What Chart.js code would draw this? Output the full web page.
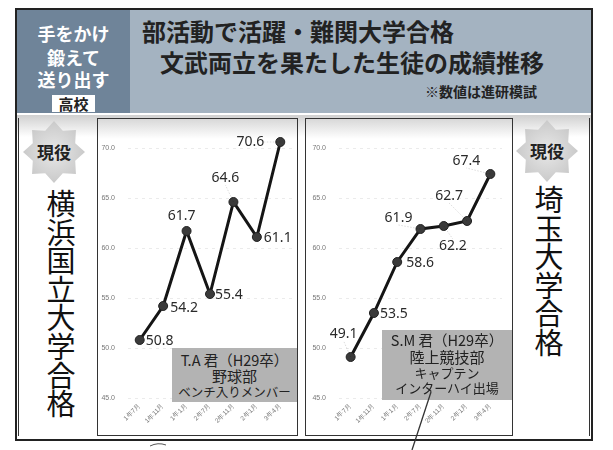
<!DOCTYPE html>
<html><head><meta charset="utf-8">
<script src="https://cdn.jsdelivr.net/npm/chart.js@4"></script>
<style>
html,body{margin:0;padding:0;}
body{width:613px;height:450px;background:#fff;position:relative;overflow:hidden;font-family:"Noto Sans CJK JP","Noto Sans",sans-serif;}
.a{position:absolute;}
.t{position:absolute;white-space:nowrap;line-height:1;}
.panel{position:absolute;border:1px solid #333;box-sizing:border-box;background:linear-gradient(#d8d8d8 0px,#fff 20px);}
.box{position:absolute;background:#b3b3b3;color:#222;text-align:center;}
.star{position:absolute;background:radial-gradient(#e8e8e8,#bdbdbd);}
.vt{position:absolute;font-size:29px;line-height:28.6px;width:30px;word-break:break-all;color:#111;text-align:center;}
</style></head>
<body>
<div class="a" style="left:15px;top:8px;width:578px;height:433px;border:2px solid #222;box-sizing:border-box;"></div>
<div class="a" style="left:17px;top:10px;width:574px;height:103px;background:#a4b3c1;"></div>
<div class="a" style="left:17px;top:10px;width:113px;height:103px;background:#6f8499;"></div>
<div class="t" style="left:17px;width:113px;text-align:center;top:24px;font-size:18px;font-weight:bold;color:#fff;">手をかけ</div>
<div class="t" style="left:17px;width:113px;text-align:center;top:48px;font-size:18px;font-weight:bold;color:#fff;">鍛えて</div>
<div class="t" style="left:17px;width:113px;text-align:center;top:70px;font-size:18px;font-weight:bold;color:#fff;">送り出す</div>
<div class="t" style="left:52px;top:95px;width:43px;height:17px;background:#fff;color:#222;font-size:15px;font-weight:bold;text-align:center;line-height:17px;">高校</div>
<div class="t" style="left:142px;top:19px;font-size:24px;font-weight:bold;color:#222;">部活動で活躍・難関大学合格</div>
<div class="t" style="left:160px;top:50px;font-size:24px;font-weight:bold;color:#222;">文武両立を果たした生徒の成績推移</div>
<div class="t" style="left:425px;top:84px;font-size:14px;font-weight:bold;color:#222;">※数値は進研模試</div>
<div class="a" style="left:17px;top:115px;width:574px;height:324px;background:linear-gradient(#d0d0d0 0px,#fff 22px);"></div>
<div class="a" style="left:18px;top:118px;width:1px;height:318px;background:#333;"></div>
<div class="a" style="left:589px;top:118px;width:1px;height:318px;background:#333;"></div>
<div class="star" id="star1" style="left:23px;top:121px;width:62px;height:62px;"></div>
<div class="t" style="left:23px;width:62px;text-align:center;top:143px;font-size:17px;font-weight:bold;color:#222;">現役</div>
<div class="vt" style="left:46px;top:188px;">横浜国立大学合格</div>
<div class="star" id="star2" style="left:516px;top:120px;width:62px;height:62px;"></div>
<div class="t" style="left:516px;width:62px;text-align:center;top:142px;font-size:17px;font-weight:bold;color:#222;">現役</div>
<div class="vt" style="left:534px;top:184px;">埼玉大学合格</div>

<div class="panel" style="left:97px;top:118px;width:201px;height:318px;"></div>
<div class="panel" style="left:305px;top:118px;width:208px;height:318px;"></div>
<div class="a" style="left:97px;top:118px;width:201px;height:317px;"><canvas id="c1"></canvas></div>
<div class="a" style="left:305px;top:118px;width:208px;height:317px;"><canvas id="c2"></canvas></div>

<div class="box" style="left:172px;top:348px;width:125px;height:54px;">
 <div style="font-size:14.5px;line-height:16px;margin-top:4px;">T.A 君（H29卒）</div>
 <div style="font-size:15px;line-height:16px;">野球部</div>
 <div style="font-size:12.5px;line-height:15px;">ベンチ入りメンバー</div>
</div>
<div class="box" style="left:382px;top:330px;width:130px;height:70px;">
 <div style="font-size:14.5px;line-height:17px;margin-top:1px;">S.M 君（H29卒）</div>
 <div style="font-size:15px;line-height:17px;">陸上競技部</div>
 <div style="font-size:13px;line-height:15px;">キャプテン</div>
 <div style="font-size:13px;line-height:16px;">インターハイ出場</div>
</div>
<svg class="a" style="left:0;top:0;" width="613" height="450"><path d="M431 392 L412 450" stroke="#333" stroke-width="1.3" fill="none"/><path d="M150 446 q8 -4 16 -1" stroke="#555" stroke-width="1" fill="none"/></svg>

<script>
// ---- data ----
const categories = ['1年7月','1年11月','1年1月','2年7月','2年11月','2年1月','3年4月'];
const scoresTA = [50.8, 54.2, 61.7, 55.4, 64.6, 61.1, 70.6];
const scoresSM = [49.1, 53.5, 58.6, 61.9, 62.2, 62.7, 67.4];
const yMin = 45, yMax = 72, yStep = 5;

// label placement (style only): [dx, dy, align, leader]
const placeTA = [[6,1,'left',0],[7,2,'left',0],[-5,-15,'center',0],[5,1,'left',0],[-8,-24,'center',1],[7,1,'left',0],[-16,0,'right',1]];
const placeSM = [[-7,-23,'center',1],[6,1,'left',0],[9,1,'left',0],[-22,-11,'center',1],[9,20,'center',1],[-18,-25,'center',1],[-24,-13,'center',1]];

// stars
function starPoly(){
  const pts=[];
  for(let k=0;k<16;k++){
    const a=(-90+k*22.5)*Math.PI/180, r=(k%2===0)?50:37;
    pts.push((50+r*Math.cos(a)).toFixed(1)+'% '+(50+r*Math.sin(a)).toFixed(1)+'%');
  }
  return 'polygon('+pts.join(',')+')';
}
document.getElementById('star1').style.clipPath=starPoly();
document.getElementById('star2').style.clipPath=starPoly();

const valueLabels = {
  id:'valueLabels',
  afterDatasetsDraw(chart, args, opts){
    const ctx=chart.ctx, meta=chart.getDatasetMeta(0), data=chart.data.datasets[0].data;
    ctx.save();
    ctx.font='14px "Noto Sans", sans-serif';
    ctx.textBaseline='middle';
    meta.data.forEach((pt,i)=>{
      const p=opts.place[i];
      const tx=pt.x+p[0], ty=pt.y+p[1];
      if(p[3]){
        ctx.strokeStyle='rgba(0,0,0,0.18)'; ctx.lineWidth=0.8; ctx.setLineDash([1.5,1.5]);
        ctx.beginPath(); ctx.moveTo(pt.x,pt.y); ctx.lineTo(tx, ty+(p[1]<0?7:(p[1]>0?-7:0))); ctx.stroke();
        ctx.setLineDash([]);
      }
      ctx.fillStyle='#2a2a2a';
      ctx.textAlign=p[2];
      ctx.fillText(data[i].toFixed(1), tx, ty);
    });
    ctx.restore();
  }
};

function makeChart(id, values, place, yWidth, padRight){
  return new Chart(document.getElementById(id), {
    type:'line',
    data:{labels:categories, datasets:[{data:values, borderColor:'#151515', borderWidth:3, tension:0,
      pointRadius:4.5, pointBackgroundColor:'#3a3a3a', pointBorderColor:'#222', pointBorderWidth:1}]},
    options:{
      responsive:true, maintainAspectRatio:false, animation:false,
      layout:{padding:{top:10,right:padRight,left:0,bottom:0}},
      plugins:{legend:{display:false}, tooltip:{enabled:false}, valueLabels:{place}},
      scales:{
        x:{offset:true, grid:{display:false, drawTicks:false}, border:{display:false},
           ticks:{font:{size:6.5}, color:'#777', maxRotation:45, minRotation:45, padding:4, autoSkip:false},
           afterFit(s){s.height=37; s.paddingLeft=0; s.paddingRight=0;}},
        y:{min:yMin, max:yMax, grid:{color:'rgba(0,0,0,0.08)', drawTicks:false},
           border:{display:false, dash:[3,4]},
           ticks:{stepSize:yStep, includeBounds:false, font:{size:7}, color:'#777', padding:13,
                  callback:v=>Number(v).toFixed(1)},
           afterFit(s){s.width=yWidth; s.paddingTop=0; s.paddingBottom=0;}}
      }
    },
    plugins:[valueLabels]
  });
}
makeChart('c1', scoresTA, placeTA, 31, 6);
makeChart('c2', scoresSM, placeSM, 34, 11);
</script>
</body></html>
